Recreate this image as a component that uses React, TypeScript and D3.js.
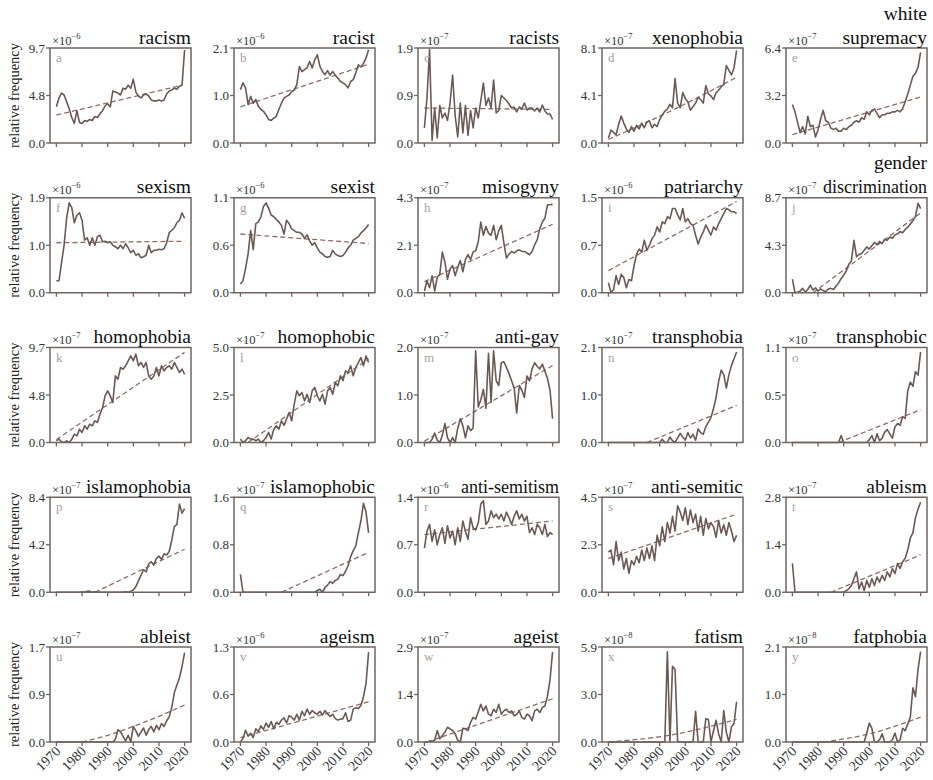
import React from 'react';
import * as d3 from 'd3';

const years = d3.range(1970, 2021);
const xTicks = [1970, 1980, 1990, 2000, 2010, 2020];

const titles = [
  'racism', 'racist', 'racists', 'xenophobia', 'white\nsupremacy',
  'sexism', 'sexist', 'misogyny', 'patriarchy', 'gender\ndiscrimination',
  'homophobia', 'homophobic', 'anti-gay', 'transphobia', 'transphobic',
  'islamophobia', 'islamophobic', 'anti-semitism', 'anti-semitic', 'ableism',
  'ableist', 'ageism', 'ageist', 'fatism', 'fatphobia',
];
const letters = 'abcdefghijklmnopqrstuvwxy'.split('');
const yMax = [9.7, 2.1, 1.9, 8.1, 6.4, 1.9, 1.1, 4.3, 1.5, 8.7, 9.7, 5.0, 2.0, 2.1, 1.1, 8.4, 1.6, 1.4, 4.5, 2.8, 1.7, 1.3, 2.9, 5.9, 2.1];
const yMid = ['4.8', '1.0', '0.9', '4.1', '3.2', '1.0', '0.6', '2.1', '0.7', '4.3', '4.8', '2.5', '1.0', '1.0', '0.5', '4.2', '0.8', '0.7', '2.3', '1.4', '0.9', '0.6', '1.4', '3.0', '1.0'];
const exps = ['6', '6', '7', '7', '7', '6', '6', '7', '6', '7', '7', '7', '7', '7', '7', '7', '7', '6', '7', '7', '7', '6', '7', '8', '8'];

const racism = [3.7, 4.6, 5.1, 4.9, 4.2, 3.5, 2.6, 2.0, 3.3, 2.1, 2.0, 2.3, 2.2, 2.4, 2.3, 2.7, 2.6, 3.0, 3.3, 3.8, 4.0, 3.7, 5.3, 5.2, 5.1, 4.9, 5.6, 5.5, 5.9, 5.6, 6.5, 5.2, 4.8, 4.6, 4.9, 5.0, 4.8, 4.4, 4.3, 4.3, 4.4, 4.3, 4.4, 5.0, 5.3, 5.4, 5.6, 5.5, 5.8, 5.9, 9.5];
const racist = [1.18, 1.33, 1.22, 0.85, 1.03, 0.88, 0.96, 0.81, 0.74, 0.70, 0.62, 0.52, 0.50, 0.55, 0.59, 0.74, 0.88, 0.99, 1.03, 1.06, 1.14, 1.17, 1.29, 1.69, 1.58, 1.62, 1.66, 1.80, 1.66, 1.84, 1.95, 1.70, 1.58, 1.51, 1.60, 1.50, 1.58, 1.50, 1.43, 1.36, 1.33, 1.29, 1.22, 1.36, 1.40, 1.55, 1.73, 1.68, 1.76, 1.88, 2.06];
const racists = [0.3, 0.9, 1.87, 0.05, 0.7, 0.1, 0.75, 0.5, 0.6, 0.45, 0.8, 1.36, 0.55, 0.12, 0.8, 0.2, 0.75, 0.15, 0.65, 0.3, 0.7, 0.5, 0.85, 1.2, 0.75, 0.9, 0.7, 1.26, 0.6, 0.65, 0.95, 0.9, 0.85, 0.78, 0.7, 0.72, 0.62, 0.72, 0.68, 0.8, 0.66, 0.7, 0.7, 0.64, 0.7, 0.62, 0.76, 0.64, 0.58, 0.58, 0.47];
const xenophobia = [0.4, 1.1, 0.9, 0.7, 1.6, 2.3, 1.7, 1.2, 0.9, 1.4, 1.0, 1.5, 1.2, 1.7, 1.3, 1.8, 1.9, 1.3, 1.6, 1.4, 2.0, 2.4, 2.7, 2.9, 3.3, 3.0, 5.5, 3.4, 3.0, 4.3, 3.8, 3.5, 2.8, 3.1, 3.4, 3.9, 3.7, 3.4, 4.9, 4.2, 4.0, 3.7, 4.3, 4.5, 4.8, 5.0, 6.6, 6.2, 5.8, 6.4, 7.9];
const whiteSupremacy = [2.6, 2.1, 1.4, 0.7, 1.1, 0.6, 1.8, 1.1, 1.2, 0.4, 0.9, 1.6, 2.2, 1.5, 1.4, 1.0, 0.9, 1.0, 0.8, 0.8, 1.0, 0.9, 1.1, 1.2, 1.4, 1.5, 1.4, 1.7, 1.6, 2.1, 1.9, 2.2, 2.3, 2.0, 1.7, 1.9, 1.9, 2.0, 2.0, 2.1, 2.1, 2.2, 2.1, 2.3, 2.8, 3.3, 3.9, 4.5, 4.7, 5.1, 6.1];
const sexism = [0.24, 0.24, 0.6, 0.95, 1.5, 1.8, 1.7, 1.4, 1.55, 1.6, 1.45, 1.05, 1.1, 0.95, 1.1, 0.95, 1.12, 1.15, 1.02, 1.03, 1.0, 1.02, 0.95, 0.92, 0.88, 0.95, 0.88, 0.98, 0.9, 0.8, 0.85, 0.75, 0.78, 0.7, 0.72, 0.75, 0.95, 0.8, 0.85, 0.85, 0.87, 0.86, 0.88, 1.0, 1.2, 1.25, 1.3, 1.4, 1.45, 1.6, 1.49];
const sexist = [0.1, 0.14, 0.28, 0.45, 0.72, 0.5, 0.8, 0.82, 0.88, 1.0, 1.04, 0.98, 0.9, 0.88, 0.85, 0.82, 0.78, 0.68, 0.84, 0.8, 0.74, 0.72, 0.7, 0.7, 0.68, 0.63, 0.67, 0.6, 0.55, 0.58, 0.52, 0.47, 0.45, 0.42, 0.41, 0.42, 0.49, 0.45, 0.43, 0.42, 0.43, 0.47, 0.52, 0.55, 0.61, 0.63, 0.65, 0.69, 0.72, 0.75, 0.79];
const misogyny = [0.08, 0.54, 0.23, 0.77, 0.08, 0.69, 0.84, 1.84, 1.38, 0.61, 1.07, 1.23, 0.77, 1.15, 1.46, 0.95, 1.5, 1.73, 1.5, 1.85, 1.9, 2.3, 3.2, 2.6, 3.0, 2.7, 2.6, 3.05, 2.4, 2.8, 3.05, 2.25, 1.57, 1.75, 1.87, 1.8, 1.9, 1.94, 1.87, 1.87, 1.8, 1.72, 1.87, 2.17, 2.4, 2.9, 3.2, 3.37, 3.98, 3.98, 4.0];
const patriarchy = [0.16, 0.0, 0.05, 0.27, 0.13, 0.29, 0.24, 0.08, 0.21, 0.19, 0.43, 0.61, 0.69, 0.64, 0.83, 0.67, 0.75, 0.85, 0.91, 1.04, 0.96, 1.12, 1.09, 1.2, 1.17, 1.33, 1.33, 1.23, 1.15, 1.33, 1.12, 1.17, 1.09, 1.07, 0.91, 0.77, 0.88, 0.96, 1.07, 0.99, 0.91, 1.04, 0.99, 1.09, 1.17, 1.25, 1.33, 1.31, 1.28, 1.28, 1.25];
const genderDiscrimination = [1.24, 0, 0.05, 0.15, 0.4, 0.06, 0.3, 0.7, 0.25, 0.45, 0.15, 0.35, 0.2, 0.1, 0.35, 0.4, 0.3, 0.6, 0.9, 1.3, 1.6, 2.0, 2.6, 2.9, 4.8, 3.3, 3.5, 3.6, 3.9, 4.2, 4.0, 4.3, 4.6, 4.4, 4.7, 4.5, 4.9, 4.8, 5.1, 5.0, 5.3, 5.4, 5.6, 5.5, 5.8, 6.0, 6.3, 6.6, 7.0, 8.2, 7.7];
const homophobia = [0.17, 0.34, 0.07, 0, 0.17, 0, 0.34, 0.85, 0.68, 1.36, 1.02, 1.7, 1.36, 1.87, 1.7, 2.21, 2.04, 2.9, 3.57, 4.76, 5.28, 4.76, 4.08, 6.8, 6.46, 7.66, 7.49, 7.83, 8.34, 8.85, 8.34, 9.02, 7.83, 8.17, 7.66, 8.17, 6.8, 6.46, 6.8, 7.66, 6.8, 7.83, 7.32, 7.66, 7.83, 7.49, 8.17, 7.66, 7.15, 7.49, 6.97];
const homophobic = [0.18, 0, 0.09, 0.26, 0.18, 0.18, 0.09, 0.18, 0, 0.09, 0.26, 0.53, 0.18, 0.7, 0.88, 0.7, 1.14, 0.9, 1.23, 1.58, 1.14, 2.02, 2.72, 2.46, 2.63, 2.19, 2.54, 2.1, 2.72, 2.9, 2.46, 2.19, 2.54, 2.02, 2.72, 2.9, 2.54, 3.16, 2.98, 3.51, 3.25, 3.77, 3.68, 4.04, 3.51, 3.95, 4.21, 4.47, 4.04, 4.56, 4.21];
const antiGay = [0, 0, 0, 0.07, 0.2, 0.05, 0, 0.15, 0.4, 0.1, 0, 0.1, 0, 0.3, 0.5, 0.35, 0.1, 0.35, 0.25, 0.3, 1.93, 0.75, 0.9, 1.12, 0.72, 1.88, 0.85, 1.93, 1.3, 1.2, 1.68, 1.7, 1.58, 1.45, 1.3, 1.15, 0.62, 1.2, 1.1, 0.95, 1.4, 1.3, 1.55, 1.68, 1.6, 1.55, 1.65, 1.5, 1.35, 1.1, 0.5];
const transphobia = [0, 0, 0, 0, 0, 0, 0, 0, 0, 0, 0, 0, 0, 0, 0, 0, 0, 0, 0, 0, 0, 0.07, 0, 0, 0.12, 0.04, 0, 0.1, 0.2, 0.12, 0.05, 0.22, 0.1, 0.18, 0.05, 0.3, 0.22, 0.18, 0.35, 0.45, 0.55, 0.75, 1.0, 1.35, 1.6, 1.5, 1.2, 1.5, 1.7, 1.85, 2.0];
const transphobic = [0, 0, 0, 0, 0, 0, 0, 0, 0, 0, 0, 0, 0, 0, 0, 0, 0, 0, 0, 0.08, 0, 0, 0, 0, 0, 0, 0, 0, 0, 0, 0.03, 0.08, 0, 0.1, 0.02, 0.05, 0.12, 0.15, 0.1, 0.05, 0.18, 0.22, 0.2, 0.3, 0.28, 0.6, 0.7, 0.65, 0.82, 0.78, 1.05];
const islamophobia = [0, 0, 0, 0, 0, 0, 0, 0, 0, 0, 0.05, 0, 0.08, 0.1, 0, 0.05, 0, 0.02, 0, 0, 0, 0, 0, 0, 0, 0, 0, 0.05, 0, 0.1, 0.2, 0.5, 1.0, 1.5, 2.0, 1.8, 2.5, 2.7, 2.4, 3.0, 3.2, 2.9, 3.4, 3.3, 3.6, 4.6, 5.8, 6.0, 7.8, 7.0, 7.4];
const islamophobic = [0.3, 0, 0, 0, 0, 0, 0, 0, 0, 0, 0, 0, 0, 0, 0, 0, 0, 0, 0, 0, 0, 0, 0, 0, 0, 0, 0, 0, 0, 0, 0.03, 0.05, 0, 0.08, 0.12, 0.18, 0.15, 0.2, 0.22, 0.3, 0.28, 0.35, 0.45, 0.6, 0.7, 0.78, 1.0, 1.2, 1.5, 1.35, 1.0];
const antiSemitism = [0.65, 0.9, 1.0, 0.75, 0.92, 0.7, 0.85, 0.95, 0.72, 0.98, 0.8, 0.9, 0.7, 0.95, 0.75, 1.05, 0.9, 0.78, 1.1, 0.95, 0.92, 1.02, 1.3, 1.35, 1.0, 1.05, 1.2, 1.1, 1.15, 1.08, 1.15, 1.05, 1.18, 1.1, 1.0, 1.12, 1.2, 1.08, 1.15, 1.05, 1.12, 0.88, 0.95, 0.85, 1.0, 0.95, 0.85, 1.0, 0.82, 0.88, 0.85];
const antiSemitic = [1.9, 2.0, 1.3, 2.4, 1.5, 1.9, 1.1, 1.6, 0.9, 1.5, 1.3, 1.7, 1.4, 2.0, 1.5, 2.1, 1.6, 2.2, 1.5, 2.7, 2.2, 3.1, 2.4, 3.3, 2.8, 3.6, 2.9, 4.1, 3.8, 3.4, 4.0, 3.2, 3.9, 3.3, 3.7, 2.9, 3.6, 2.7, 3.5, 3.0, 3.3, 3.1, 2.6, 3.4, 2.8, 3.2, 2.7, 3.3, 2.9, 2.4, 2.7];
const ableism = [0.85, 0, 0, 0, 0, 0, 0, 0, 0, 0, 0, 0, 0, 0, 0, 0, 0, 0, 0, 0, 0, 0.05, 0.1, 0.2, 0.4, 0.6, 0.1, 0.3, 0.05, 0.35, 0.15, 0.4, 0.2, 0.45, 0.3, 0.5, 0.35, 0.6, 0.45, 0.7, 0.55, 0.85, 0.7, 0.9, 1.0, 1.25, 1.6, 1.75, 2.2, 2.45, 2.65];
const ableist = [0, 0, 0, 0, 0, 0, 0, 0, 0, 0, 0, 0, 0, 0, 0, 0, 0, 0, 0, 0, 0, 0, 0, 0.05, 0.22, 0.18, 0.1, 0.02, 0.12, 0, 0.28, 0.2, 0.1, 0.18, 0.25, 0.12, 0.22, 0.28, 0.18, 0.3, 0.22, 0.33, 0.28, 0.38, 0.45, 0.62, 0.88, 1.02, 1.15, 1.35, 1.6];
const ageism = [0.0, 0.05, 0.16, 0.08, 0.12, 0.06, 0.18, 0.14, 0.22, 0.17, 0.26, 0.2, 0.28, 0.18, 0.27, 0.24, 0.3, 0.33, 0.26, 0.36, 0.34, 0.3, 0.38, 0.3, 0.42, 0.36, 0.45, 0.38, 0.43, 0.4, 0.38, 0.42, 0.37, 0.43, 0.38, 0.35, 0.38, 0.32, 0.3, 0.31, 0.32, 0.4, 0.28, 0.3, 0.45, 0.47, 0.46, 0.5, 0.62, 0.8, 1.23];
const ageist = [0, 0, 0.02, 0.03, 0.05, 0.35, 0.1, 0.2, 0.3, 0.45, 0.4, 0.35, 0.25, 0.05, 0, 0.42, 0.4, 0.35, 0.6, 0.75, 0.7, 0.92, 1.15, 0.95, 1.1, 0.85, 0.8, 1.0, 0.9, 1.15, 0.85, 0.95, 1.0, 0.9, 0.95, 0.8, 0.85, 0.95, 0.75, 0.7, 0.85, 0.8, 0.65, 0.95, 1.0, 0.9, 1.05, 1.1, 1.4, 1.9, 2.75];
const fatism = [0, 0, 0, 0, 0, 0, 0, 0, 0, 0, 0, 0, 0, 0, 0, 0, 0, 0, 0, 0, 0, 0, 0, 5.6, 0, 4.7, 4.5, 0, 0, 0, 0, 0, 0, 0, 1.9, 0, 0, 0, 1.45, 1.4, 0, 0.7, 1.35, 0.5, 0, 1.95, 0.6, 0, 0.95, 1.15, 2.5];
const fatphobia = [0, 0, 0, 0, 0, 0, 0, 0, 0, 0, 0, 0, 0, 0, 0, 0, 0, 0, 0, 0, 0, 0, 0, 0, 0, 0, 0, 0, 0, 0.2, 0.42, 0.3, 0, 0, 0.05, 0.18, 0, 0, 0, 0.05, 0.2, 0, 0.05, 0.3, 0.25, 0.4, 0.55, 1.2, 1.0, 1.6, 2.0];

const series = [
  racism, racist, racists, xenophobia, whiteSupremacy,
  sexism, sexist, misogyny, patriarchy, genderDiscrimination,
  homophobia, homophobic, antiGay, transphobia, transphobic,
  islamophobia, islamophobic, antiSemitism, antiSemitic, ableism,
  ableist, ageism, ageist, fatism, fatphobia,
];

// dashed trend lines: [year, value] knots
const trends: [number, number][][] = [
  [[1970, 2.85], [2019, 5.9]],
  [[1970, 0.8], [2020, 1.74]],
  [[1970, 0.7], [2020, 0.67]],
  [[1970, 0.3], [1995, 2.8], [2020, 5.6]],
  [[1970, 0.57], [2020, 3.1]],
  [[1970, 1.0], [2020, 1.03]],
  [[1970, 0.68], [2020, 0.57]],
  [[1970, 0.5], [2020, 3.1]],
  [[1970, 0.35], [2020, 1.44]],
  [[1978, 0], [2020, 7.3]],
  [[1970, 0.3], [2020, 9.2]],
  [[1973, 0], [2020, 4.4]],
  [[1970, 0.03], [2020, 1.62]],
  [[1985, 0], [2020, 0.82]],
  [[1988, 0], [2020, 0.38]],
  [[1985, 0], [2020, 3.8]],
  [[1986, 0], [2020, 0.67]],
  [[1970, 0.85], [2020, 1.05]],
  [[1970, 1.6], [2020, 3.7]],
  [[1985, 0], [2020, 1.1]],
  [[1980, 0], [1990, 0.12], [2000, 0.28], [2010, 0.46], [2020, 0.66]],
  [[1970, 0.06], [2020, 0.55]],
  [[1971, 0], [2020, 1.32]],
  [[1970, 0], [1993, 0.4], [2020, 1.4]],
  [[1982, 0], [2000, 0.18], [2020, 0.55]],
];

const W = 933;
const H = 780;
const PW = 141;
const PH = 95;
const LEFT0 = 50;
const COLSTEP = 184;
const TOP0 = 48;
const ROWSTEP = 149.75;

const SERIF = "'Liberation Serif', 'Times New Roman', Times, 'DejaVu Serif', serif";
const SPINE = '#6f6562';
const LINE = '#6b5955';
const DASH = '#8f6d66';
const txt = (size: number) => ({ fontFamily: SERIF, fontSize: size + 'px' });

function Panel({ i }: { i: number }) {
  const r = Math.floor(i / 5);
  const c = i % 5;
  const left = LEFT0 + c * COLSTEP;
  const top = TOP0 + r * ROWSTEP;
  const x = d3.scaleLinear().domain([1967.5, 2022.5]).range([left, left + PW]);
  const y = d3.scaleLinear().domain([0, yMax[i]]).range([top + PH, top]);
  const line = d3.line<number>().x((_, k) => x(years[k])).y((v) => y(v));
  const tline = d3
    .line<[number, number]>()
    .x((d) => x(d[0]))
    .y((d) => y(d[1]))
    .curve(trends[i].length > 2 ? d3.curveMonotoneX : d3.curveLinear);
  const titleLines = titles[i].split('\n');
  const yTicks = [
    { v: 0, t: '0.0' },
    { v: yMax[i] / 2, t: yMid[i] },
    { v: yMax[i], t: yMax[i].toFixed(1) },
  ];
  return (
    <g>
      <path d={tline(trends[i]) || ''} fill="none" stroke={DASH} strokeWidth={1.3} strokeDasharray="5,3" />
      <path d={line(series[i]) || ''} fill="none" stroke={LINE} strokeWidth={1.6} strokeLinejoin="round" />
      <rect x={left} y={top} width={PW} height={PH} fill="none" stroke={SPINE} strokeWidth={1.5} />
      {xTicks.map((t) => (
        <line key={t} x1={x(t)} x2={x(t)} y1={top + PH} y2={top + PH + 4} stroke={SPINE} strokeWidth={1.3} />
      ))}
      {yTicks.map((t, k) => (
        <g key={k}>
          <line x1={left - 4} x2={left} y1={y(t.v)} y2={y(t.v)} stroke={SPINE} strokeWidth={1.3} />
          <text x={left - 5} y={y(t.v) + 4.5} textAnchor="end" style={txt(13)} fill="#333">
            {t.t}
          </text>
        </g>
      ))}
      <text x={left + 6} y={top + 14} style={txt(13)} fill="#a8a09e">
        {letters[i]}
      </text>
      <text x={left + 2} y={top - 3.5} style={txt(12.5)} fill="#333">
        ×10
        <tspan style={txt(8.5)} dy={-6}>
          {'\u2212' + exps[i]}
        </tspan>
      </text>
      {titleLines.map((tl, k) => (
        <text
          key={k}
          x={left + PW}
          y={top - 4.5 - (titleLines.length - 1 - k) * 24}
          textAnchor="end"
          style={txt(tl.length > 12 ? 18 : 19.5)}
          fill="#111"
        >
          {tl}
        </text>
      ))}
      {c === 0 && (
        <text
          transform={`translate(${19},${top + PH / 2}) rotate(-90)`}
          textAnchor="middle"
          style={txt(14.5)}
          fill="#222"
        >
          relative frequency
        </text>
      )}
      {r === 4 &&
        xTicks.map((t) => (
          <text
            key={'l' + t}
            transform={`translate(${x(t) + 5},${top + PH + 10}) rotate(-45)`}
            textAnchor="end"
            style={txt(14)}
            fill="#333"
          >
            {t}
          </text>
        ))}
    </g>
  );
}

export default function App() {
  return (
    <svg
      width={W}
      height={H}
      viewBox={`0 0 ${W} ${H}`}
      style={{ position: 'absolute', left: 0, top: 0, background: '#fff' }}
    >
      <rect x={0} y={0} width={W} height={H} fill="#fff" />
      {series.map((_, i) => (
        <Panel key={i} i={i} />
      ))}
    </svg>
  );
}
